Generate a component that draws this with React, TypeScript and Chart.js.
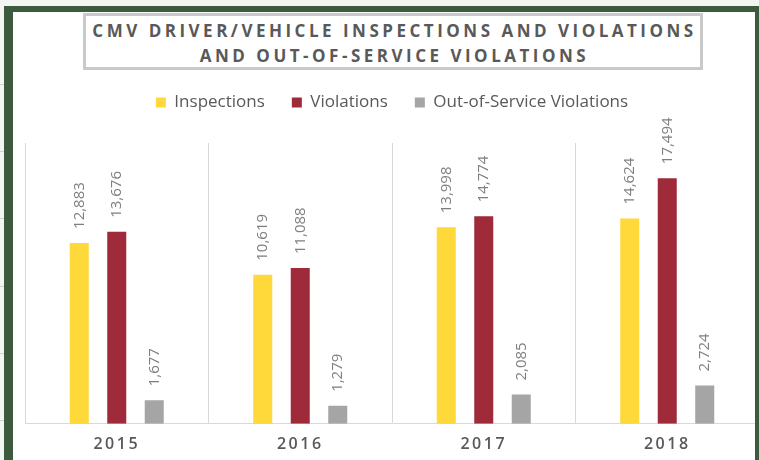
import React, { useEffect, useRef } from "react";
import { Chart, registerables } from "chart.js";

Chart.register(...registerables);

const categories = ["2015", "2016", "2017", "2018"];
const inspections = [12883, 10619, 13998, 14624];
const violations = [13676, 11088, 14774, 17494];
const oosViolations = [1677, 1279, 2085, 2724];
const seriesNames = ["Inspections", "Violations", "Out-of-Service Violations"];
const seriesColors = ["#FFD83A", "#9E2A3A", "#A5A5A5"];
const titleLines = [
  "CMV DRIVER/VEHICLE INSPECTIONS AND VIOLATIONS",
  "AND OUT-OF-SERVICE VIOLATIONS",
];
const yMin = 0;
const yMax = 20000;

const FONT = "'Open Sans', 'DejaVu Sans', sans-serif";
const AXIS_SPACING = "2.5px";

const helperPlugin = {
  id: "helperPlugin",
  beforeLayout(chart: any) {
    const lg = chart.legend;
    if (lg && !lg._patched) {
      const orig = lg.fit.bind(lg);
      lg.fit = function () {
        orig();
        this.height += 22;
      };
      lg._patched = true;
    }
  },
  afterDatasetsDraw(chart: any) {
    const ctx = chart.ctx;
    ctx.save();
    ctx.font = `15px ${FONT}`;
    ctx.fillStyle = "#7F7F7F";
    ctx.textAlign = "left";
    ctx.textBaseline = "middle";
    chart.data.datasets.forEach((ds: any, di: number) => {
      const meta = chart.getDatasetMeta(di);
      meta.data.forEach((bar: any, i: number) => {
        const v = ds.data[i] as number;
        ctx.save();
        ctx.translate(bar.x, bar.y - 14);
        ctx.rotate(-Math.PI / 2);
        ctx.fillText(v.toLocaleString("en-US"), 0, 0);
        ctx.restore();
      });
    });
    ctx.restore();
    (ctx as any).letterSpacing = AXIS_SPACING;
  },
  afterDraw(chart: any) {
    (chart.ctx as any).letterSpacing = "0px";
  },
};

export default function App() {
  const ref = useRef<HTMLCanvasElement | null>(null);

  useEffect(() => {
    if (!ref.current) return;
    const chart = new Chart(ref.current, {
      type: "bar",
      data: {
        labels: categories,
        datasets: [
          { label: seriesNames[0], data: inspections, backgroundColor: seriesColors[0] },
          { label: seriesNames[1], data: violations, backgroundColor: seriesColors[1] },
          { label: seriesNames[2], data: oosViolations, backgroundColor: seriesColors[2] },
        ],
      },
      options: {
        animation: false,
        responsive: false,
        devicePixelRatio: 1,
        layout: { padding: { left: 25, right: 0, top: 67, bottom: 7 } },
        datasets: {
          bar: { categoryPercentage: 0.613, barPercentage: 0.507 },
        },
        plugins: {
          title: { display: false },
          tooltip: { enabled: false },
          legend: {
            display: true,
            position: "top",
            labels: {
              boxWidth: 10,
              boxHeight: 10,
              padding: 27,
              color: "#595959",
              font: { family: FONT, size: 17 },
            },
          },
        },
        scales: {
          x: {
            grid: { display: true, color: "#D9D9D9", lineWidth: 1, drawTicks: false, offset: true },
            border: { display: true, color: "#D9D9D9" },
            ticks: {
              z: 1,
              color: "#595959",
              padding: 11,
              maxRotation: 0,
              font: { family: FONT, size: 16, weight: "600" },
            },
          },
          y: {
            display: false,
            min: yMin,
            max: yMax,
          },
        },
      },
      plugins: [helperPlugin],
    } as any);
    return () => chart.destroy();
  }, []);

  const green = "#3B5A3E";
  const tickYs = [84, 151, 218, 286, 353, 420];

  return (
    <div
      style={{
        position: "fixed",
        left: 0,
        top: 0,
        width: 759,
        height: 460,
        background: "#FFFFFF",
        overflow: "hidden",
      }}
    >
      <canvas
        ref={ref}
        width={759}
        height={472}
        style={{ position: "absolute", left: 0, top: 0, width: 759, height: 472 }}
      />
      <div style={{ position: "absolute", left: 0, top: 0, width: 759, height: 6, background: "#F3F5F3" }} />
      <div style={{ position: "absolute", left: 0, top: 0, width: 4, height: 460, background: "#F3F5F3" }} />
      {tickYs.map((y) => (
        <div key={y} style={{ position: "absolute", left: 0, top: y, width: 4, height: 1, background: "#D0D0D0" }} />
      ))}
      <div style={{ position: "absolute", left: 4, top: 6, width: 755, height: 6, background: green }} />
      <div style={{ position: "absolute", left: 4, top: 6, width: 9, height: 454, background: green }} />
      <div style={{ position: "absolute", left: 755, top: 6, width: 4, height: 454, background: green }} />
      <div
        style={{
          position: "absolute",
          left: 83,
          top: 13,
          width: 620,
          height: 57,
          boxSizing: "border-box",
          border: "3px solid #C9C9C9",
          background: "#FFFFFF",
          display: "flex",
          flexDirection: "column",
          alignItems: "center",
          justifyContent: "center",
          fontFamily: FONT,
          fontWeight: 700,
          fontSize: 17,
          letterSpacing: "3.5px",
          lineHeight: "25px",
          color: "#595959",
          paddingLeft: 3,
          paddingTop: 2,
        }}
      >
        {titleLines.map((t) => (
          <div key={t} style={{ whiteSpace: "nowrap" }}>
            {t}
          </div>
        ))}
      </div>
    </div>
  );
}
